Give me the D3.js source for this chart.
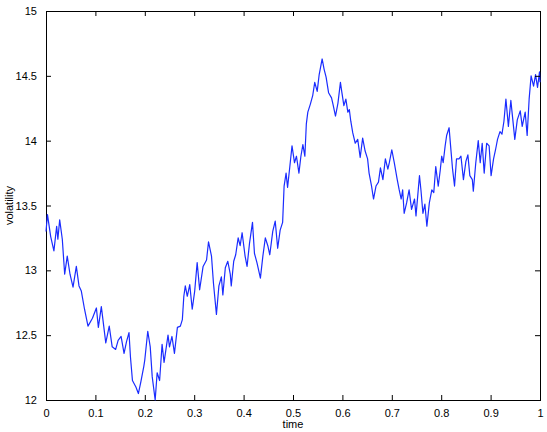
<!DOCTYPE html>
<html>
<head>
    <title></title>
    <script src='https://d3js.org/d3.v7.min.js'></script>
    <style>
      body {margin:0; background:#fff;}
      text {font-family: "Liberation Sans", Arial, sans-serif; font-size: 11px;}
    </style>
</head>
<body onload='init()'>
<svg width=547 height=432>
</svg>
<script>
// values
var times = [0.000,0.003,0.0095,0.016,0.0216,0.024,0.0277,0.033,0.0378,0.043,0.0486,0.0547,0.0614,0.0668,0.0715,0.078,0.085,0.094,0.102,0.106,0.112,0.121,0.128,0.134,0.141,0.146,0.152,0.158,0.163,0.168,0.171,0.175,0.182,0.187,0.192,0.198,
 0.200,0.206,0.211,0.215,0.221,0.225,0.230,0.235,0.239,0.247,0.250,0.255,0.260,0.266,0.272,0.276,0.279,0.282,0.286,0.291,0.296,0.301,0.306,0.311,0.318,0.325,0.329,0.335,0.339,0.345,0.350,0.355,0.358,0.363,0.368,0.373,0.375,0.380,0.384,0.389,0.393,0.397,
 0.403,0.407,0.412,0.418,0.422,0.427,0.434,0.439,0.444,0.449,0.453,0.459,0.464,0.469,0.474,0.479,0.482,0.486,0.489,0.493,0.498,0.503,0.507,0.512,0.516,0.520,0.524,0.527,0.530,0.535,0.540,0.544,0.549,0.553,0.559,0.563,0.567,0.572,0.578,0.581,0.586,0.591,0.596,0.599,
 0.603,0.607,0.611,0.614,0.617,0.621,0.626,0.631,0.636,0.641,0.646,0.651,0.654,0.659,0.663,0.668,0.673,0.677,0.682,0.687,0.692,0.695,0.700,0.705,0.711,0.715,0.719,0.722,0.725,0.730,0.735,0.740,0.746,0.749,0.756,0.759,0.763,0.767,0.771,0.776,0.781,0.785,0.789,0.794,0.798,
 0.801,0.804,0.808,0.811,0.816,0.819,0.823,0.827,0.831,0.836,0.840,0.845,0.850,0.854,0.858,0.863,0.865,0.870,0.875,0.879,0.883,0.887,0.892,0.897,0.901,0.906,0.910,0.914,0.919,0.923,0.927,0.931,0.936,0.941,0.945,0.949,0.954,0.960,0.964,0.970,0.974,0.978,0.982,0.987,0.991,0.995,0.999,1.000];
var volatility = [13.30,13.43,13.26,13.15,13.34,13.24,13.39,13.24,12.97,13.11,12.97,12.87,13.03,12.88,12.84,12.70,12.57,12.63,12.71,12.56,12.72,12.44,12.57,12.41,12.39,12.46,12.49,12.36,12.45,12.52,12.33,12.15,12.10,12.05,12.14,12.26,
 12.31,12.53,12.41,12.18,12.00,12.21,12.15,12.43,12.29,12.50,12.41,12.49,12.36,12.56,12.57,12.62,12.80,12.88,12.80,12.89,12.70,12.84,13.06,12.85,13.03,13.08,13.22,13.11,12.90,12.66,12.88,12.95,12.81,13.02,13.07,12.97,12.88,13.07,13.12,13.25,13.19,13.29,
 13.11,13.03,13.21,13.37,13.13,13.06,12.94,13.11,13.25,13.19,13.12,13.30,13.38,13.17,13.31,13.37,13.65,13.75,13.64,13.78,13.96,13.83,13.88,13.75,13.88,13.97,13.88,14.13,14.22,14.28,14.35,14.45,14.38,14.51,14.63,14.55,14.49,14.37,14.33,14.28,14.19,14.29,14.45,14.37,
 14.27,14.32,14.22,14.24,14.15,14.06,13.98,14.01,13.87,14.02,13.92,13.86,13.75,13.65,13.55,13.65,13.68,13.79,13.70,13.86,13.78,13.83,13.93,13.83,13.70,13.62,13.55,13.62,13.44,13.52,13.62,13.47,13.55,13.42,13.73,13.62,13.44,13.51,13.34,13.52,13.62,13.60,13.80,13.65,13.77,
 13.88,13.83,13.96,14.04,14.10,13.96,13.78,13.65,13.86,13.86,13.88,13.70,13.84,13.89,13.73,13.70,13.61,13.83,14.00,13.83,13.98,13.75,13.98,13.96,13.73,13.86,13.93,14.01,14.07,14.05,14.15,14.32,14.11,14.31,14.16,14.01,14.16,14.23,14.11,14.22,14.04,14.32,14.50,14.42,14.51,14.41,14.53,14.45];
var xTicks = [0,0.1,0.2,0.3,0.4,0.5,0.6,0.7,0.8,0.9,1];
var yTicks = [12,12.5,13,13.5,14,14.5,15];

function init() {
var svg = d3.select("svg");
var left = 46, right = 540, top = 11, bottom = 400;
var x = d3.scaleLinear().domain([0,1]).range([left,right]);
var y = d3.scaleLinear().domain([12,15]).range([bottom,top]);
var fmt = function(d) { return String(d); };

// frame
svg.append("rect")
  .attr("x",left).attr("y",top)
  .attr("width",right-left).attr("height",bottom-top)
  .attr("fill","none").attr("stroke","black").attr("stroke-width",1)
  .attr("shape-rendering","crispEdges");

//line
var pts = times.map(function(t,i){ return [t, volatility[i]]; });
svg.append("path")
  .datum(pts)
  .attr("fill","none")
  .attr("stroke","#1a2cff")
  .attr("stroke-width",1.2)
  .attr("stroke-linejoin","round")
  .attr("d", d3.line().x(function(d){return x(d[0]);}).y(function(d){return y(d[1]);}));

//axes, ticks inward
svg.append("g").attr("transform","translate(0,"+bottom+")")
  .call(d3.axisBottom(x).tickValues(xTicks).tickFormat(fmt).tickSizeInner(-5).tickSizeOuter(0).tickPadding(9));
svg.append("g").attr("transform","translate(0,"+top+")")
  .call(d3.axisTop(x).tickValues(xTicks).tickFormat("").tickSizeInner(-5).tickSizeOuter(0));
svg.append("g").attr("transform","translate("+left+",0)")
  .call(d3.axisLeft(y).tickValues(yTicks).tickFormat(fmt).tickSizeInner(-5).tickSizeOuter(0).tickPadding(9));
svg.append("g").attr("transform","translate("+right+",0)")
  .call(d3.axisRight(y).tickValues(yTicks).tickFormat("").tickSizeInner(-5).tickSizeOuter(0));
svg.selectAll(".domain").remove();
svg.selectAll(".tick text").attr("font-size","11px").attr("font-family","Liberation Sans, Arial, sans-serif").attr("fill","black");

// axis labels
svg.append("text")
  .attr("x",(left+right)/2).attr("y",428)
  .style("text-anchor","middle")
  .text("time");
svg.append("text")
  .attr("x",-(top+bottom)/2).attr("y",13)
  .attr("transform","rotate(-90)")
  .style("text-anchor","middle")
  .text("volatility");
}
</script>
</body>
</html>
